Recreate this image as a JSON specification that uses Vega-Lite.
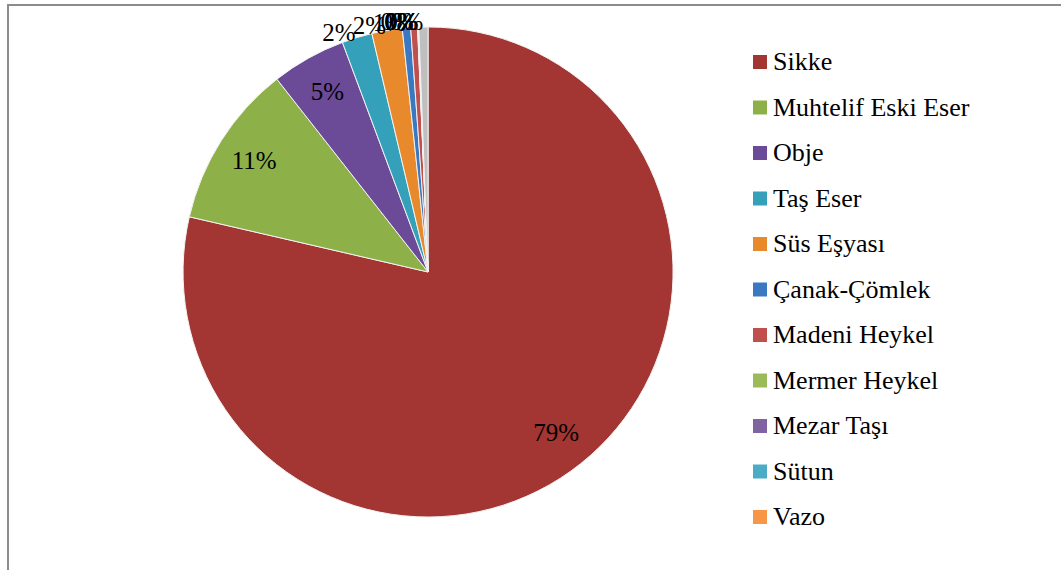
{
  "$schema": "https://vega.github.io/schema/vega-lite/v6.json",
  "width": 1056,
  "height": 568,
  "padding": {"left": 8, "top": 5, "right": 0, "bottom": 0},
  "autosize": {"type": "none"},
  "background": "white",
  "config": {
    "view": {"stroke": "#8c8c8c", "strokeWidth": 2},
    "font": "Liberation Serif"
  },
  "data": {
    "values": [
      {"rank": 1, "category": "Sikke", "pct": 78.6, "label": "79%"},
      {"rank": 2, "category": "Muhtelif Eski Eser", "pct": 10.8, "label": "11%"},
      {"rank": 3, "category": "Obje", "pct": 4.9, "label": "5%"},
      {"rank": 4, "category": "Taş Eser", "pct": 2.0, "label": "2%"},
      {"rank": 5, "category": "Süs Eşyası", "pct": 2.0, "label": "2%"},
      {"rank": 6, "category": "Çanak-Çömlek", "pct": 0.55, "label": "1%"},
      {"rank": 7, "category": "Madeni Heykel", "pct": 0.45, "label": "0%"},
      {"rank": 8, "category": "Mermer Heykel", "pct": 0.02, "label": "0%"},
      {"rank": 9, "category": "Mezar Taşı", "pct": 0.02, "label": "0%"},
      {"rank": 10, "category": "Sütun", "pct": 0.02, "label": "0%"},
      {"rank": 11, "category": "Vazo", "pct": 0.02, "label": "0%"},
      {"rank": 12, "category": "Diğer", "pct": 0.6, "label": "0%"}
    ]
  },
  "encoding": {
    "x": {"datum": 0, "type": "quantitative", "scale": {"domain": [-1, 1.514], "nice": false, "zero": false}, "axis": null},
    "y": {"datum": 0, "type": "quantitative", "scale": {"domain": [-1, 0.887], "nice": false, "zero": false}, "axis": null},
    "theta": {"field": "pct", "type": "quantitative", "stack": true},
    "order": {"field": "rank", "type": "quantitative"}
  },
  "layer": [
    {
      "mark": {"type": "arc", "radius": 245, "stroke": "#f2f2f2", "strokeWidth": 1},
      "encoding": {
        "color": {
          "field": "category",
          "type": "nominal",
          "scale": {
            "domain": ["Sikke", "Muhtelif Eski Eser", "Obje", "Taş Eser", "Süs Eşyası", "Çanak-Çömlek", "Madeni Heykel", "Mermer Heykel", "Mezar Taşı", "Sütun", "Vazo", "Diğer"],
            "range": ["#a33532", "#8db148", "#6b4a98", "#34a0b9", "#e8892c", "#3b78c2", "#c0504d", "#9bbb59", "#8064a2", "#4bacc6", "#f79646", "#bfbfbf"]
          },
          "legend": {
            "orient": "none",
            "legendX": 739,
            "legendY": 44,
            "title": null,
            "values": ["Sikke", "Muhtelif Eski Eser", "Obje", "Taş Eser", "Süs Eşyası", "Çanak-Çömlek", "Madeni Heykel", "Mermer Heykel", "Mezar Taşı", "Sütun", "Vazo"],
            "labelFontSize": 26,
            "labelFont": "Liberation Serif",
            "labelColor": "black",
            "labelLimit": 400,
            "symbolType": "square",
            "symbolSize": 196,
            "symbolStrokeWidth": 0,
            "rowPadding": 19.5,
            "labelOffset": 0,
            "padding": 0
          }
        }
      }
    },
    {
      "mark": {"type": "text", "radius": 206, "fontSize": 25, "font": "Liberation Serif", "color": "black"},
      "encoding": {
        "text": {"condition": {"test": "datum.pct >= 3", "field": "label"}, "value": ""}
      }
    },
    {
      "mark": {"type": "text", "radius": 250, "fontSize": 25, "font": "Liberation Serif", "color": "black", "align": "right"},
      "encoding": {
        "text": {"condition": {"test": "datum.pct < 3", "field": "label"}, "value": ""}
      }
    }
  ]
}
